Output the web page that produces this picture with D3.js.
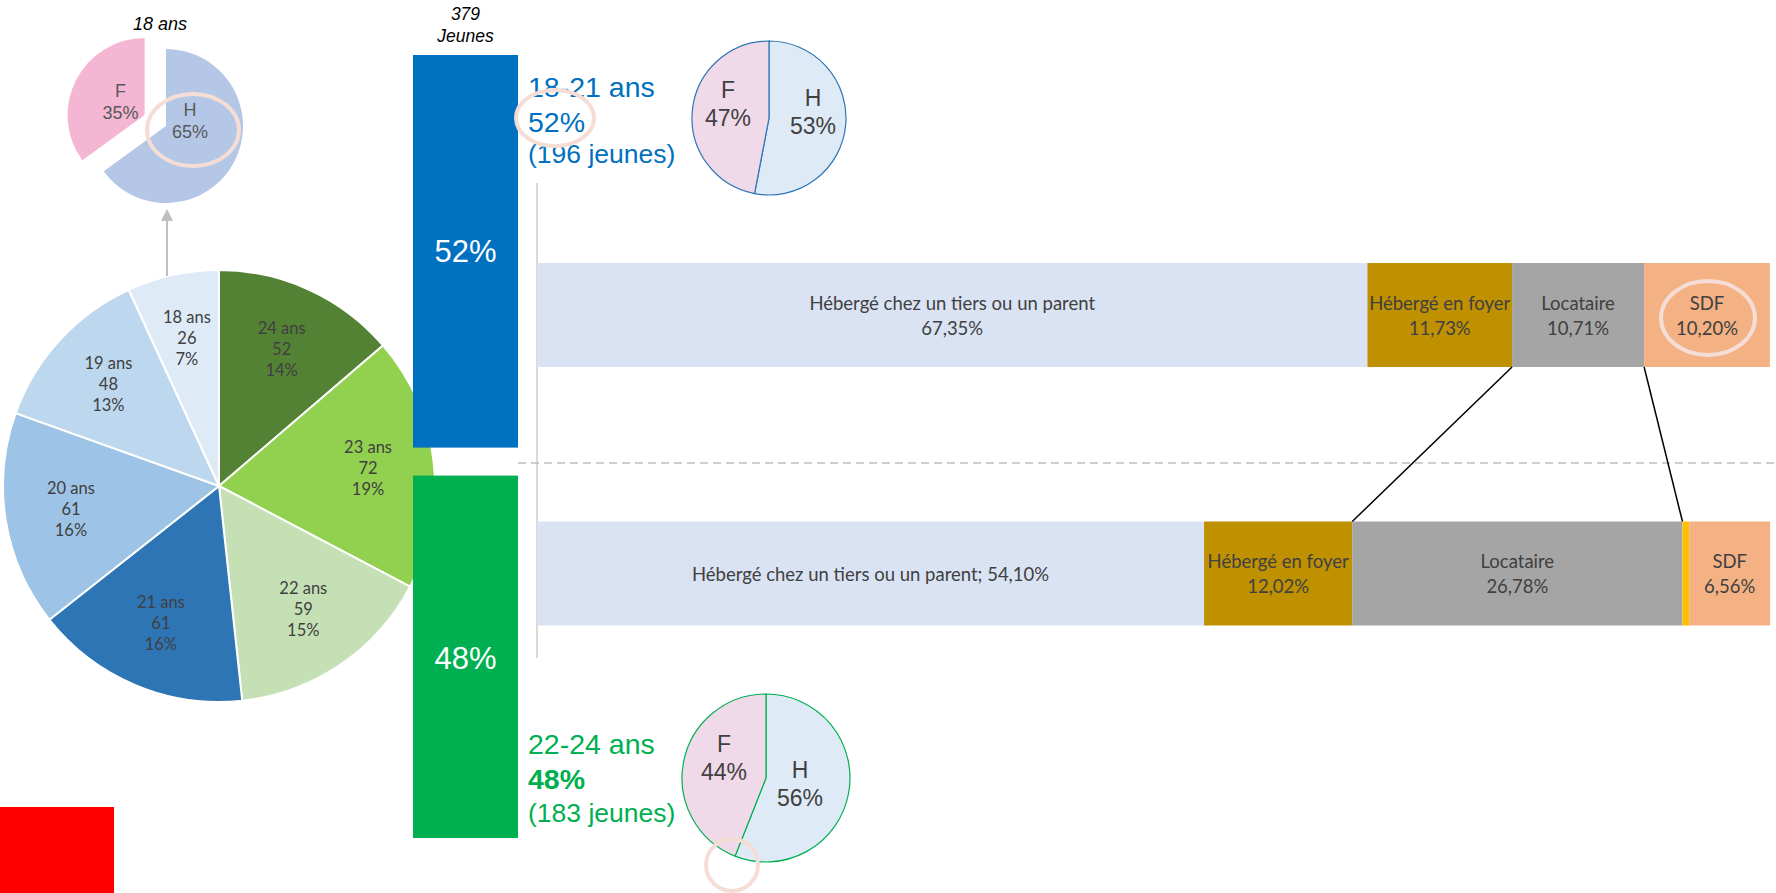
<!DOCTYPE html>
<html><head><meta charset="utf-8">
<script src="https://cdn.jsdelivr.net/npm/d3@7"></script>
<style>body{margin:0;background:#fff}svg{display:block}</style>
</head><body><svg id="c" width="1776" height="893"></svg>
<script>
// ---------- DATA ----------
const ages = ["24 ans","23 ans","22 ans","21 ans","20 ans","19 ans","18 ans"];
const ageCounts = [52,72,59,61,61,48,26];
const agePcts = ["14%","19%","15%","16%","16%","13%","7%"];
const ageColors = ["#548235","#92d050","#c5e0b4","#2e75b6","#9dc3e6","#bdd7ee","#deebf7"];

const sexLabels = ["H","F"];
const sex18 = [65,35];
const sex18Colors = ["#b4c7e7","#f4b6d2"];

const groups = ["18-21 ans","22-24 ans"];
const groupShares = [52,48];
const groupCounts = [196,183];
const groupColors = ["#0070c0","#00b050"];
const totalYoung = 379;

const sexGroup1 = [53,47];
const sexGroup2 = [56,44];
const sexGroupColors = ["#deebf7","#f0d9e8"];

const housingCats = ["Hébergé chez un tiers ou un parent","Hébergé en foyer","Locataire","Autre","SDF"];
const housing1 = [67.35,11.73,10.71,0,10.20];
const housing2 = [54.10,12.02,26.78,0.55,6.56];
const housingColors = ["#dae3f3","#bf9000","#a5a5a5","#ffc000","#f4b183"];

// ---------- SETUP ----------
const svg = d3.select("#c");
const ARIAL = "'Liberation Sans', Arial, sans-serif";
const CAL = "Lato, 'Open Sans', sans-serif";
const ringColor = "#f5ddd5";
const frNum = v => d3.format(".2f")(v).replace(".", ",");

// ---------- BIG AGE PIE ----------
const bigC = [219, 486], bigR = 216;
const pie = d3.pie().sort(null).value(d => d);
const bigArcs = pie(ageCounts);
const bigArc = d3.arc().innerRadius(0).outerRadius(bigR);
const bigLab = d3.arc().innerRadius(150).outerRadius(150);
const gBig = svg.append("g").attr("transform", `translate(${bigC})`);
gBig.selectAll("path").data(bigArcs).join("path")
  .attr("d", bigArc).attr("fill", (d,i) => ageColors[i])
  .attr("stroke", "#fff").attr("stroke-width", 2);
bigArcs.forEach((d,i) => {
  const [x,y] = bigLab.centroid(d);
  const t = gBig.append("text").attr("x", x).attr("y", y - 22)
    .attr("text-anchor","middle").attr("dominant-baseline","central")
    .attr("font-family", CAL).attr("font-size", 16.5).attr("fill", "#404040");
  [ages[i], ageCounts[i], agePcts[i]].forEach((s,k) =>
    t.append("tspan").attr("x", x).attr("dy", k === 0 ? 0 : 21).text(s));
});

// ---------- SMALL 18 ANS PIE ----------
const smC = [166, 126], smR = 77, explode = 24;
const smArcs = pie(sex18);
const smArc = d3.arc().innerRadius(0).outerRadius(smR);
const gSm = svg.append("g").attr("transform", `translate(${smC})`);
const smLabelOff = [[24, -4], [-24, -12]];
smArcs.forEach((d,i) => {
  const mid = (d.startAngle + d.endAngle) / 2;
  const off = i === 1 ? [Math.sin(mid)*explode, -Math.cos(mid)*explode] : [0,0];
  const g = gSm.append("g").attr("transform", `translate(${off})`);
  g.append("path").attr("d", smArc(d)).attr("fill", sex18Colors[i]);
  const [lx, ly] = smLabelOff[i];
  const t = g.append("text").attr("x", lx).attr("y", ly - 12)
    .attr("text-anchor","middle").attr("dominant-baseline","central")
    .attr("font-family", ARIAL).attr("font-size", 18).attr("fill", "#595959");
  [sexLabels[i], sex18[i] + "%"].forEach((s,k) =>
    t.append("tspan").attr("x", lx).attr("dy", k === 0 ? 0 : 22).text(s));
});
svg.append("text").attr("x", smC[0] - 6).attr("y", 30).attr("text-anchor","middle")
  .attr("font-family", ARIAL).attr("font-style","italic").attr("font-size", 18)
  .attr("fill", "#000").text("18 ans");
// ring on H
svg.append("ellipse").attr("cx", smC[0] + 27).attr("cy", smC[1] + 4)
  .attr("rx", 46).attr("ry", 36).attr("fill","none")
  .attr("stroke", ringColor).attr("stroke-width", 4);
// arrow from big pie to small pie
svg.append("defs").append("marker").attr("id","arr").attr("viewBox","0 0 10 10")
  .attr("refX", 5).attr("refY", 5).attr("markerWidth", 6).attr("markerHeight", 6)
  .attr("orient","auto")
  .append("path").attr("d","M0,0L10,5L0,10Z").attr("fill","#bfbfbf");
svg.append("line").attr("x1", smC[0] + 1).attr("x2", smC[0] + 1)
  .attr("y1", bigC[1] - bigR + 6).attr("y2", smC[1] + smR + 12)
  .attr("stroke","#bfbfbf").attr("stroke-width", 2).attr("marker-end","url(#arr)");

// ---------- GROUP BARS (vertical stacked) ----------
const gap = 28;
const yShare = d3.scaleLinear().domain([0, 100]).range([55, 838 - gap]);
const barX = 413, barW = 105;
let acc = 0;
const groupRects = groupShares.map((v,i) => {
  const y0 = yShare(acc) + i*gap, y1 = yShare(acc + v) + i*gap;
  acc += v;
  return {y0, y1, i};
});
svg.selectAll("rect.grp").data(groupRects).join("rect").attr("class","grp")
  .attr("x", barX).attr("width", barW)
  .attr("y", d => d.y0).attr("height", d => d.y1 - d.y0)
  .attr("fill", d => groupColors[d.i]);
const grpLabelY = [251, 658];
groupRects.forEach((d,i) => {
  svg.append("text").attr("x", barX + barW/2).attr("y", grpLabelY[i])
    .attr("text-anchor","middle").attr("dominant-baseline","central")
    .attr("font-family", ARIAL).attr("font-size", 31).attr("fill","#fff")
    .text(groupShares[i] + "%");
});
const tt = svg.append("text").attr("text-anchor","middle")
  .attr("font-family", ARIAL).attr("font-style","italic").attr("font-size", 17.5);
tt.append("tspan").attr("x", barX + barW/2).attr("y", 20).text(totalYoung);
tt.append("tspan").attr("x", barX + barW/2).attr("y", 42).text("Jeunes");

// group captions
const capX = 528;
const capBase = [[97,132,163],[754,789,822]];
groups.forEach((g,i) => {
  const b = capBase[i];
  const c = groupColors[i];
  svg.append("text").attr("x", capX).attr("y", b[0]).attr("font-family", ARIAL)
    .attr("font-size", 28.5).attr("fill", c).text(g);
  svg.append("text").attr("x", capX).attr("y", b[1]).attr("font-family", ARIAL)
    .attr("font-size", 28.5).attr("fill", c).attr("font-weight", i === 1 ? "bold" : "normal")
    .text(groupShares[i] + "%");
  svg.append("text").attr("x", capX).attr("y", b[2]).attr("font-family", ARIAL)
    .attr("font-size", 26.5).attr("fill", c).text(`(${groupCounts[i]} jeunes)`);
});
svg.append("ellipse").attr("cx", 555).attr("cy", 118).attr("rx", 39).attr("ry", 28)
  .attr("fill","none").attr("stroke", ringColor).attr("stroke-width", 4);

// ---------- SEX PIES PER GROUP ----------
function sexPie(vals, c, r, stroke, labOff) {
  const arcs = pie(vals);
  const arc = d3.arc().innerRadius(0).outerRadius(r);
  const g = svg.append("g").attr("transform", `translate(${c})`);
  g.selectAll("path").data(arcs).join("path").attr("d", arc)
    .attr("fill", (d,i) => sexGroupColors[i]).attr("stroke", stroke).attr("stroke-width", 1.2);
  arcs.forEach((d,i) => {
    const [lx, ly] = labOff[i];
    const t = g.append("text").attr("x", lx).attr("y", ly - 14)
      .attr("text-anchor","middle").attr("dominant-baseline","central")
      .attr("font-family", ARIAL).attr("font-size", 23).attr("fill","#404040");
    [sexLabels[i], vals[i] + "%"].forEach((s,k) =>
      t.append("tspan").attr("x", lx).attr("dy", k === 0 ? 0 : 28).text(s));
  });
}
sexPie(sexGroup1, [769,118], 77, "#2e75b6", [[44,-6],[-41,-14]]);
sexPie(sexGroup2, [766,778], 84, "#00b050", [[34,6],[-42,-20]]);
svg.append("circle").attr("cx", 732).attr("cy", 865).attr("r", 26)
  .attr("fill","none").attr("stroke", ringColor).attr("stroke-width", 4);

// ---------- HOUSING BARS ----------
const x = d3.scaleLinear().domain([0, 100]).range([537, 1770]);
const yB = d3.scalePoint().domain(groups).range([315, 573.5]);
const bh = 104;
function stackRow(vals) {
  let a = 0;
  return vals.map((v,i) => { const s = {i, v, x0: a, x1: a + v}; a += v; return s; });
}
const rows = [stackRow(housing1), stackRow(housing2)];

// vertical separator & dashed divider
svg.append("line").attr("x1", 537).attr("x2", 537).attr("y1", 183).attr("y2", 658)
  .attr("stroke","#d9d9d9").attr("stroke-width", 2);
svg.append("line").attr("x1", 518).attr("x2", 1776).attr("y1", 463).attr("y2", 463)
  .attr("stroke","#bfbfbf").attr("stroke-width", 1.5).attr("stroke-dasharray","8,5");

rows.forEach((row, r) => {
  const cy = yB(groups[r]);
  svg.append("g").selectAll("rect").data(row.filter(d => d.v > 0)).join("rect")
    .attr("x", d => x(d.x0)).attr("width", d => x(d.x1) - x(d.x0))
    .attr("y", cy - bh/2).attr("height", bh).attr("fill", d => housingColors[d.i]);
  row.forEach(d => {
    if (d.i === 3) return;
    const cx = (x(d.x0) + x(d.x1)) / 2;
    const t = svg.append("text").attr("text-anchor","middle").attr("dominant-baseline","central")
      .attr("font-family", CAL).attr("font-size", 18.5).attr("fill","#404040");
    if (r === 1 && d.i === 0) {
      t.attr("x", cx).attr("y", cy).text(`${housingCats[d.i]}; ${frNum(d.v)}%`);
    } else {
      t.append("tspan").attr("x", cx).attr("y", cy - 12.5).text(housingCats[d.i]);
      t.append("tspan").attr("x", cx).attr("y", cy + 12.5).text(frNum(d.v) + "%");
    }
  });
});
// series lines linking "Locataire" segments
const li = 2;
[["x0","x0"],["x1","x1"]].forEach(([a,b]) => {
  svg.append("line")
    .attr("x1", x(rows[0][li][a])).attr("y1", yB(groups[0]) + bh/2)
    .attr("x2", x(rows[1][li][b])).attr("y2", yB(groups[1]) - bh/2)
    .attr("stroke","#000").attr("stroke-width", 1.5);
});
// ring on SDF
const sdf = rows[0][4];
svg.append("ellipse").attr("cx", (x(sdf.x0)+x(sdf.x1))/2 + 1).attr("cy", yB(groups[0]) + 3)
  .attr("rx", 47).attr("ry", 37).attr("fill","none")
  .attr("stroke", ringColor).attr("stroke-width", 4);

// red marker block
svg.append("rect").attr("x", 0).attr("y", 807).attr("width", 114).attr("height", 86).attr("fill","#ff0000");
</script></body></html>
